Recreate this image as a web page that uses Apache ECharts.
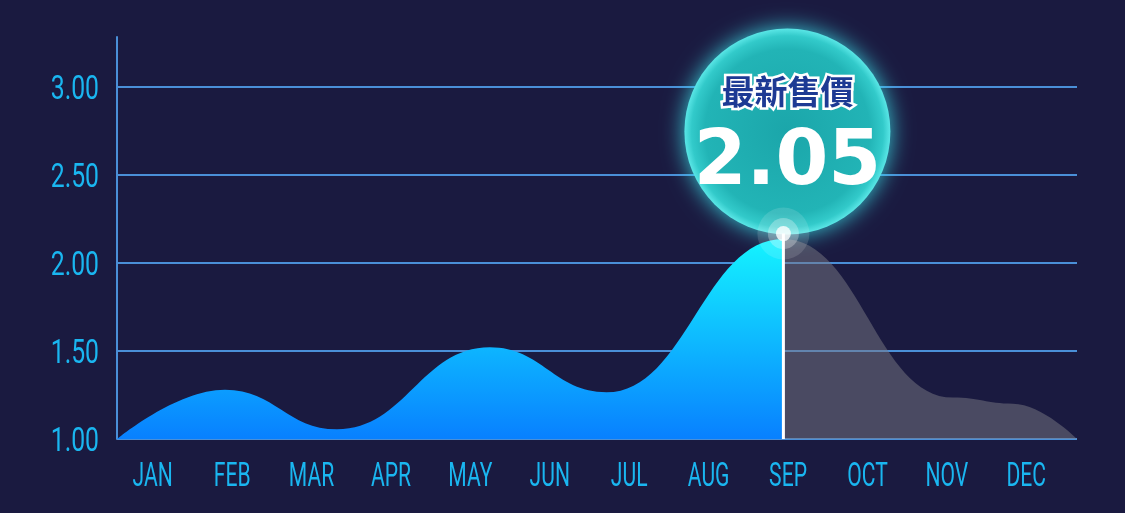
<!DOCTYPE html>
<html>
<head>
<meta charset="utf-8">
<script src="https://cdn.jsdelivr.net/npm/echarts@6/dist/echarts.min.js"></script>
<style>
html,body{margin:0;padding:0;background:#1a1a40;}
#c{width:1125px;height:513px;}
</style>
</head>
<body>
<div id="c"></div>
<script>
// ---- data ----
const monthLabels = ['JAN','FEB','MAR','APR','MAY','JUN','JUL','AUG','SEP','OCT','NOV','DEC'];
const yTickValues = [1.0, 1.5, 2.0, 2.5, 3.0];
// price curve turning points: [position in months (0 = chart start, 12 = chart end), price]
const pricePoints = [
  [0,1.00],[1.35,1.28],[2.75,1.055],[4.66,1.52],[6.12,1.265],[8.33,2.135],
  [10.45,1.235],[11.2,1.20],[12,1.00]
];
const splitMonth = 8.33;            // actual (blue) up to here, projection (grey) after
const latestPoint = [8.33, 2.165];
const dividerLine = [[8.33, 1.0], [8.33, 2.165]];
const latestTitle = '最新售價';
const latestPrice = '2.05';

const labelFont = "Roboto,'Liberation Sans',sans-serif";
const labelColor = '#1ab6f0';
const gridColor = '#4a8fd8';
const gLeft = 117, gWidth = 960, gTop = 37, gBottom = 74, xMax = 12, yMin = 1, yMax = 3.28;
const splitW = gWidth * splitMonth / xMax;

const chart = echarts.init(document.getElementById('c'), null, {renderer:'canvas'});
const hiddenY = (gi) => ({type:'value', gridIndex:gi, min:yMin, max:yMax, show:false});
const option = {
  backgroundColor: '#1a1a40',
  animation: false,
  grid: [
    {left:gLeft, width:gWidth, top:gTop, bottom:gBottom},
    {left:113, width:953, top:gTop, bottom:gBottom},
    {left:gLeft, width:splitW, top:gTop, bottom:gBottom},
    {left:gLeft + splitW, width:gWidth - splitW, top:gTop, bottom:gBottom}
  ],
  xAxis: [
    {type:'value', gridIndex:0, min:0, max:xMax, show:false},
    {type:'category', gridIndex:1, data:monthLabels, boundaryGap:true,
     axisLine:{show:false}, axisTick:{show:false}, splitLine:{show:false},
     axisLabel:{show:false}},
    {type:'value', gridIndex:2, min:0, max:splitMonth, show:false},
    {type:'value', gridIndex:3, min:splitMonth, max:xMax, show:false}
  ],
  yAxis: [
    {type:'value', gridIndex:0, min:yMin, max:yMax, interval:0.5,
     axisLine:{show:true, lineStyle:{color:gridColor, width:2}},
     axisTick:{show:false},
     axisLabel:{show:false},
     splitLine:{show:true, showMaxLine:false, lineStyle:{color:gridColor, width:2}}},
    {type:'value', gridIndex:1, min:0, max:1, show:false},
    hiddenY(2), hiddenY(3)
  ],
  series: [
    {type:'line', xAxisIndex:2, yAxisIndex:2, data:pricePoints, smooth:0.45, smoothMonotone:'x',
     clip:true, showSymbol:false, lineStyle:{width:0}, z:3,
     areaStyle:{opacity:1, origin:'start', color:new echarts.graphic.LinearGradient(0,0,0,1,[
       {offset:0,color:'#14f4ff'},{offset:1,color:'#0880ff'}])}},
    {type:'line', xAxisIndex:3, yAxisIndex:3, data:pricePoints, smooth:0.45, smoothMonotone:'x',
     clip:true, showSymbol:false, lineStyle:{width:0}, z:3,
     areaStyle:{origin:'start', color:'rgba(122,122,132,0.5)', opacity:1}},
    {type:'line', xAxisIndex:0, yAxisIndex:0, data:dividerLine, showSymbol:false,
     lineStyle:{color:'#ffffff', width:3}, z:4},
    {type:'scatter', xAxisIndex:0, yAxisIndex:0, data:[latestPoint], symbolSize:52,
     itemStyle:{color:'rgba(255,255,255,0.16)'}, z:5},
    {type:'scatter', xAxisIndex:0, yAxisIndex:0, data:[latestPoint], symbolSize:31,
     itemStyle:{color:'rgba(255,255,255,0.35)'}, z:6},
    {type:'scatter', xAxisIndex:0, yAxisIndex:0, data:[latestPoint], symbolSize:15,
     itemStyle:{color:'#ffffff'}, z:7}
  ]
};
chart.setOption(option);

const graphics = [];
// axis labels (condensed look via horizontal scale), positioned by the axes
monthLabels.forEach(function (m) {
  const px = chart.convertToPixel({xAxisIndex:1}, m);
  const py = chart.convertToPixel({yAxisIndex:0}, 1.0);
  graphics.push({type:'text', z:10, x:px, y:py + 39, scaleX:0.64, originX:0, originY:0,
    style:{text:m, align:'center', verticalAlign:'middle', fontFamily:labelFont,
      fontSize:33, fill:labelColor}});
});
yTickValues.forEach(function (v) {
  const py = chart.convertToPixel({yAxisIndex:0}, v);
  const px = chart.convertToPixel({xAxisIndex:0}, 0);
  graphics.push({type:'text', z:10, x:px - 18, y:py + 4, scaleX:0.75, originX:0, originY:0,
    style:{text:v.toFixed(2), align:'right', verticalAlign:'middle', fontFamily:labelFont,
      fontSize:33, fill:labelColor}});
});

const p = chart.convertToPixel({xAxisIndex:0, yAxisIndex:0}, latestPoint);
const cx = p[0] + 4, cy = p[1] - 102;
graphics.push(
  {type:'circle', z:1, shape:{cx:cx, cy:cy, r:103},
   style:{
     fill:new echarts.graphic.RadialGradient(0.5,0.5,0.5,[
       {offset:0,color:'#1ba6aa'},{offset:0.8,color:'#22b4b6'},
       {offset:0.93,color:'#32caca'},{offset:1,color:'#5ae6e6'}]),
     shadowBlur:22, shadowColor:'rgba(60,235,240,0.85)'}},
  {type:'text', z:10, x:cx, y:cy - 40,
   style:{text:latestTitle, align:'center', verticalAlign:'middle',
     fontFamily:"'Noto Sans CJK TC','Noto Sans CJK SC',sans-serif", fontWeight:'bold',
     fontSize:33, fill:'#1d3a94', stroke:'#ffffff', lineWidth:5, strokeFirst:true,
     shadowBlur:6, shadowColor:'rgba(255,255,255,0.6)'}},
  {type:'text', z:10, x:cx, y:cy + 33,
   style:{text:latestPrice, align:'center', verticalAlign:'middle',
     fontFamily:"'DejaVu Sans',sans-serif", fontWeight:'bold', fontSize:76,
     fill:'#ffffff', shadowBlur:5, shadowOffsetX:3, shadowOffsetY:3,
     shadowColor:'rgba(10,50,90,0.75)'}}
);
chart.setOption({graphic: graphics});
</script>
</body>
</html>
